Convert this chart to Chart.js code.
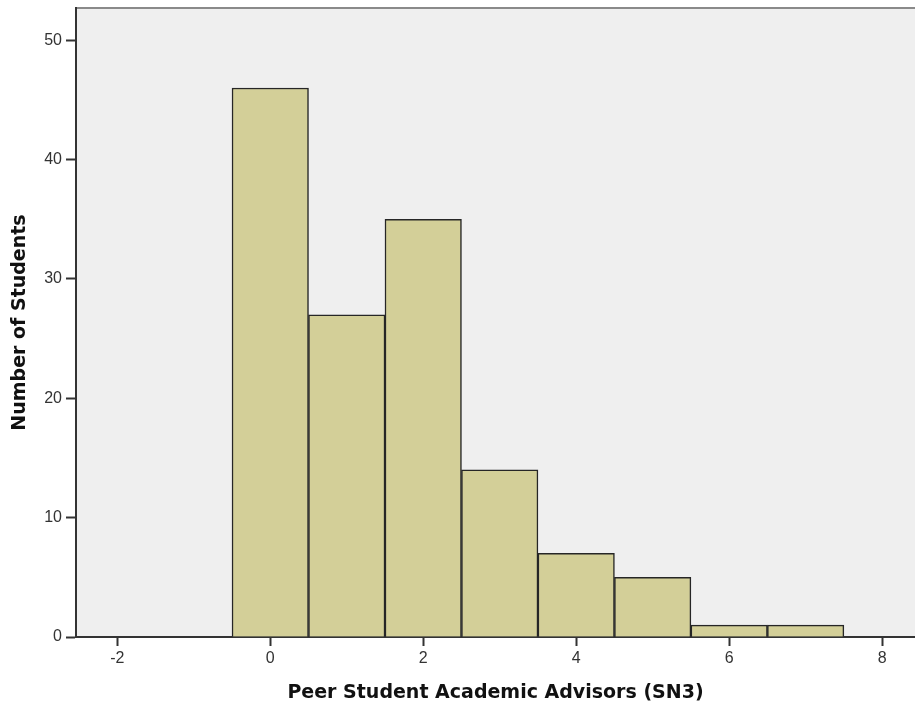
<!DOCTYPE html>
<html>
<head>
<meta charset="utf-8">
<script src="https://cdn.jsdelivr.net/npm/chart.js@4.4.1/dist/chart.umd.min.js"></script>
<style>
  html, body { margin: 0; padding: 0; background: #ffffff; }
  #wrap { width: 915px; height: 707px; }
</style>
</head>
<body>
<div id="wrap"><canvas id="c" width="915" height="707"></canvas></div>
<script>
// Histogram bins (bin centres) and student counts
const binCentres = [0, 1, 2, 3, 4, 5, 6, 7];
const studentCounts = [46, 27, 35, 14, 7, 5, 1, 1];
const xTicks = [-2, 0, 2, 4, 6, 8];
const yTicks = [0, 10, 20, 30, 40, 50];

const xTitle = 'Peer Student Academic Advisors (SN3)';
const yTitle = 'Number of Students';

// Plot-area background and top frame line
const plotBackground = {
  id: 'plotBackground',
  beforeDraw(chart) {
    const { ctx, chartArea: a } = chart;
    ctx.save();
    ctx.fillStyle = '#efefef';
    ctx.fillRect(a.left, a.top, a.right - a.left, a.bottom - a.top);
    ctx.strokeStyle = '#8a8a8a';
    ctx.lineWidth = 2;
    ctx.beginPath();
    ctx.moveTo(a.left, a.top);
    ctx.lineTo(a.right, a.top);
    ctx.stroke();
    ctx.restore();
  }
};

new Chart(document.getElementById('c'), {
  type: 'bar',
  data: {
    datasets: [{
      data: binCentres.map((x, i) => ({ x: x, y: studentCounts[i] })),
      backgroundColor: '#d3cf98',
      borderColor: '#262626',
      borderWidth: 1.5,
      borderSkipped: 'bottom',
      barPercentage: 1.0,
      categoryPercentage: 1.0
    }]
  },
  options: {
    responsive: false,
    animation: false,
    layout: { padding: { top: 8, right: 0, bottom: 0, left: 0 } },
    plugins: {
      legend: { display: false },
      tooltip: { enabled: false }
    },
    scales: {
      x: {
        type: 'linear',
        offset: false,
        min: -2.54,
        max: 8.43,
        afterBuildTicks(scale) { scale.ticks = xTicks.map(v => ({ value: v })); },
        afterFit(scale) { scale.height = 70; scale.paddingLeft = 0; scale.paddingRight = 0; },
        grid: { offset: false, drawOnChartArea: false, tickLength: 9, tickColor: '#333333', tickWidth: 2 },
        border: { color: '#333333', width: 2 },
        ticks: {
          color: '#333333',
          font: { family: 'Liberation Sans', size: 16 },
          padding: 3,
          maxRotation: 0
        },
        title: {
          display: true,
          text: xTitle,
          color: '#111111',
          font: { family: 'DejaVu Sans', size: 19, weight: 'bold' },
          padding: { top: 0, bottom: 3 }
        }
      },
      y: {
        type: 'linear',
        min: 0,
        max: 52.7,
        afterBuildTicks(scale) { scale.ticks = yTicks.map(v => ({ value: v })); },
        afterFit(scale) { scale.width = 76; scale.paddingTop = 0; scale.paddingBottom = 0; },
        grid: { drawOnChartArea: false, tickLength: 10, tickColor: '#333333', tickWidth: 2 },
        border: { color: '#333333', width: 2 },
        ticks: {
          color: '#333333',
          font: { family: 'Liberation Sans', size: 16 },
          padding: 4
        },
        title: {
          display: true,
          text: yTitle,
          color: '#111111',
          font: { family: 'DejaVu Sans', size: 19, weight: 'bold' },
          padding: { top: 9, bottom: 0 }
        }
      }
    }
  },
  plugins: [plotBackground]
});
</script>
</body>
</html>
